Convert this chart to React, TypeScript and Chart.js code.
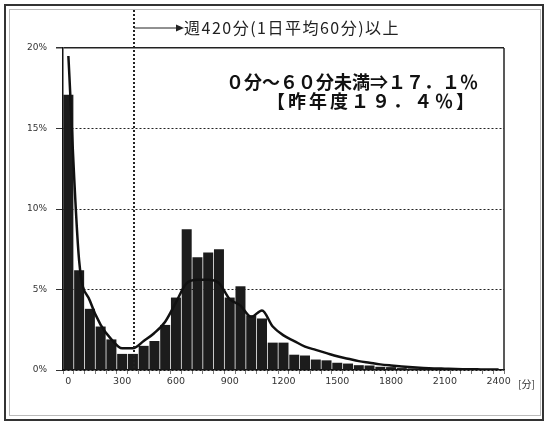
import React, { useEffect, useRef } from "react";
import { Chart, registerables } from "chart.js";

Chart.register(...registerables);

const categories = [
  "0", "60", "120", "180", "240", "300", "360", "420", "480", "540",
  "600", "660", "720", "780", "840", "900", "960", "1020", "1080", "1140",
  "1200", "1260", "1320", "1380", "1440", "1500", "1560", "1620", "1680", "1740",
  "1800", "1860", "1920", "1980", "2040", "2100", "2160", "2220", "2280", "2340",
  "2400",
];

const tickLabels = ["0", "300", "600", "900", "1200", "1500", "1800", "2100", "2400"];

const barValues = [
  17.1, 6.2, 3.8, 2.7, 1.9, 1.0, 1.0, 1.5, 1.8, 2.8,
  4.5, 8.75, 7.0, 7.3, 7.5, 4.5, 5.2, 3.4, 3.2, 1.7,
  1.7, 0.95, 0.9, 0.65, 0.6, 0.45, 0.4, 0.3, 0.28, 0.2,
  0.18, 0.12, 0.1, 0.08, 0.07, 0.05, 0.05, 0.04, 0.03, 0.03,
  0.03,
];

const lineValues = [
  19.5, 6.8, 4.3, 2.8, 1.9, 1.35, 1.35, 1.8, 2.3, 3.0,
  4.2, 5.4, 5.6, 5.6, 5.4, 4.4, 4.0, 3.3, 3.7, 2.7,
  2.15, 1.8, 1.45, 1.25, 1.05, 0.85, 0.7, 0.55, 0.45, 0.35,
  0.28, 0.22, 0.17, 0.13, 0.1, 0.08, 0.06, 0.05, 0.04, 0.03,
  0.03,
];

const yTicks = [0, 5, 10, 15, 20];
const markerIndex = 6;
const topNote = "週420分(1日平均60分)以上";
const noteLine1 = "０分～６０分未満⇒１７．１％";
const noteLine2 = "【昨年度１９．４％】";
const unitLabel = "[分]";

const JP = '"Noto Sans CJK JP", "Noto Sans", sans-serif';

const overlay = {
  id: "overlay",
  afterDraw(chart: any) {
    const ctx = chart.ctx;
    const area = chart.chartArea;
    const xs = chart.scales.x;
    ctx.save();
    // outer frame
    ctx.strokeStyle = "#333";
    ctx.lineWidth = 2;
    ctx.strokeRect(5, 5, 538, 415);
    ctx.strokeStyle = "#bbb";
    ctx.lineWidth = 1;
    ctx.strokeRect(9.5, 9.5, 531, 406);
    // plot right border
    ctx.strokeStyle = "#222";
    ctx.lineWidth = 1.5;
    ctx.beginPath();
    ctx.moveTo(area.right, area.top);
    ctx.lineTo(area.right, area.bottom);
    ctx.stroke();
    // dotted vertical marker
    const mx = Math.round(xs.getPixelForValue(markerIndex)) + 1;
    ctx.strokeStyle = "#222";
    ctx.lineWidth = 2;
    ctx.setLineDash([2, 2]);
    ctx.beginPath();
    ctx.moveTo(mx, 10);
    ctx.lineTo(mx, area.bottom);
    ctx.stroke();
    ctx.setLineDash([]);
    // arrow
    const ay = 28;
    ctx.lineWidth = 1;
    ctx.beginPath();
    ctx.moveTo(mx, ay);
    ctx.lineTo(178, ay);
    ctx.stroke();
    ctx.fillStyle = "#222";
    ctx.beginPath();
    ctx.moveTo(184, ay);
    ctx.lineTo(176, ay - 3.5);
    ctx.lineTo(176, ay + 3.5);
    ctx.closePath();
    ctx.fill();
    // top note
    ctx.font = `16px ${JP}`;
    ctx.textAlign = "left";
    ctx.textBaseline = "middle";
    (ctx as any).letterSpacing = "1.5px";
    ctx.fillText(topNote, 184, ay);
    // annotation
    ctx.font = `bold 18px ${JP}`;
    ctx.textAlign = "right";
    ctx.fillStyle = "#111";
    (ctx as any).letterSpacing = "0px";
    ctx.fillText(noteLine1, 478, 82);
    (ctx as any).letterSpacing = "3px";
    ctx.fillText(noteLine2, 477, 101);
    (ctx as any).letterSpacing = "0px";
    // unit
    ctx.font = `10px ${JP}`;
    ctx.textAlign = "left";
    ctx.fillStyle = "#333";
    ctx.fillText(unitLabel, 518, 384);
    ctx.restore();
  },
};

export default function App() {
  const ref = useRef<HTMLCanvasElement>(null);
  useEffect(() => {
    if (!ref.current) return;
    const chart = new Chart(ref.current, {
      type: "bar",
      data: {
        labels: categories,
        datasets: [
          {
            type: "line",
            data: lineValues,
            borderColor: "#111",
            borderWidth: 2.5,
            pointRadius: 0,
            cubicInterpolationMode: "monotone",
            fill: false,
            order: 0,
          } as any,
          {
            type: "bar",
            data: barValues,
            backgroundColor: "#1c1c1c",
            borderWidth: 0,
            barPercentage: 0.93,
            categoryPercentage: 1,
            order: 1,
          },
        ],
      },
      options: {
        responsive: false,
        animation: false,
        layout: { padding: { top: 48, right: 41, left: 0, bottom: 0 } },
        plugins: { legend: { display: false }, tooltip: { enabled: false } },
        scales: {
          x: {
            offset: true,
            grid: {
              display: true,
              drawOnChartArea: false,
              offset: true,
              tickLength: 4,
              color: "#777",
            },
            border: { display: true, color: "#111", width: 1.5 },
            ticks: {
              autoSkip: false,
              maxRotation: 0,
              padding: 2,
              color: "#333",
              font: { family: '"DejaVu Sans", sans-serif', size: 9.5 },
              callback: (_v: any, i: number) => (i % 5 === 0 ? tickLabels[i / 5] : ""),
            },
            afterFit: (s: any) => {
              s.height = 57;
            },
          },
          y: {
            min: 0,
            max: 20,
            afterBuildTicks: (s: any) => {
              s.ticks = yTicks.map((v) => ({ value: v }));
            },
            grid: {
              color: "#222",
              lineWidth: (c: any) => (c.tick && c.tick.value === 20 ? 1.5 : 1),
              tickLength: 7,
              tickColor: "#333",
            },
            border: {
              display: true,
              color: "#111",
              width: 1.5,
              dash: (c: any) => (c.tick && c.tick.value !== 20 ? [2, 2] : []),
            } as any,
            ticks: {
              padding: 9,
              color: "#333",
              font: { family: '"DejaVu Sans", sans-serif', size: 9 },
              callback: (v: any) => `${v}%`,
            },
            afterFit: (s: any) => {
              s.width = 63;
            },
          },
        },
      },
      plugins: [overlay],
    });
    return () => chart.destroy();
  }, []);
  return (
    <div style={{ position: "fixed", left: 0, top: 0, width: 545, height: 427, background: "#fff" }}>
      <canvas ref={ref} width={545} height={427} />
    </div>
  );
}
